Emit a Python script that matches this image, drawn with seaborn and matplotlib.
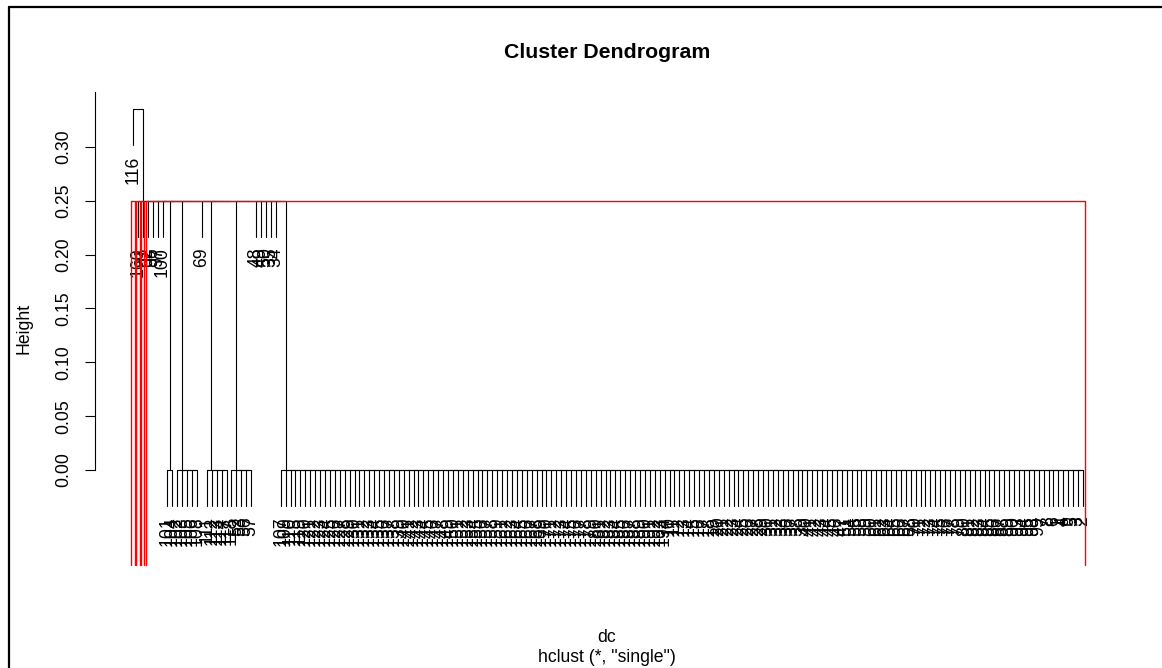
import matplotlib
matplotlib.use("Agg")
import matplotlib.pyplot as plt
import seaborn as sns
from matplotlib.lines import Line2D

# merge heights
ROOT_HEIGHT = 0.335
MID_HEIGHT = 0.25
ZERO_HEIGHT = 0.0
HANG = 0.1

# leaf labels, left to right, grouped the way the tree joins them
outlier = ["116"]
mid_leaves_a = ["160", "91", "92", "96", "97", "100"]
pair_a = ["101", "104"]
five_a = ["102", "103", "105", "106", "108"]
single_b = ["69"]
five_b = ["111", "112", "113", "114", "117"]
five_c = ["118", "52", "53", "56", "57"]
mid_leaves_c = ["48", "49", "50", "35", "34"]
big_cluster = [
    "107", "109", "110", "115", "119", "120", "121", "122", "123", "124",
    "125", "126", "127", "128", "129", "130", "131", "132", "133", "134",
    "135", "136", "137", "138", "139", "140", "141", "142", "143", "144",
    "145", "146", "147", "148", "149", "150", "151", "152", "153", "154",
    "155", "156", "157", "158", "159", "161", "162", "163", "164", "165",
    "166", "167", "168", "169", "170", "171", "172", "173", "174", "175",
    "176", "177", "178", "179", "180", "181", "182", "183", "184", "185",
    "186", "187", "188", "189", "190", "191", "192", "193", "194",
    "10", "11", "12", "13", "14", "15", "16", "17", "18", "19",
    "20", "21", "22", "23", "24", "25", "26", "27", "28", "29",
    "30", "31", "32", "33", "36", "37", "38", "39", "40", "41",
    "42", "43", "44", "45", "46", "47", "51", "54", "55", "58",
    "59", "60", "61", "62", "63", "64", "65", "66", "67", "68",
    "70", "71", "72", "73", "74", "75", "76", "77", "78", "79",
    "80", "81", "82", "83", "84", "85", "86", "87", "88", "89",
    "90", "93", "94", "95", "98", "99",
    "7", "8", "6", "1", "4", "9", "5", "3", "2",
]

# rect.hclust(k = 4): cluster sizes in leaf order
cut_sizes = [1, 1, 1, 191]


def leaf(lbl):
    return ("leaf", lbl)


def chain(items, h):
    # ties at one height: R joins them as a right-nested chain
    if len(items) == 1:
        return items[0]
    return ("merge", h, items[0], chain(items[1:], h))


def zero_group(labels):
    return chain([leaf(l) for l in labels], ZERO_HEIGHT)


mid_children = ([leaf(l) for l in mid_leaves_a]
                + [zero_group(pair_a), zero_group(five_a)]
                + [leaf(l) for l in single_b]
                + [zero_group(five_b), zero_group(five_c)]
                + [leaf(l) for l in mid_leaves_c]
                + [zero_group(big_cluster)])
tree = ("merge", ROOT_HEIGHT, leaf(outlier[0]), chain(mid_children, MID_HEIGHT))

n_leaves = 1 + len(mid_leaves_a) + len(pair_a) + len(five_a) + len(single_b) \
    + len(five_b) + len(five_c) + len(mid_leaves_c) + len(big_cluster)
hang = HANG * ROOT_HEIGHT

sns.set_theme(style="white")
plt.rcParams["font.family"] = ["Liberation Sans", "DejaVu Sans"]
plt.rcParams["text.color"] = "black"
plt.rcParams["axes.labelcolor"] = "black"
plt.rcParams["ytick.color"] = "black"

fig = plt.figure(figsize=(11.62, 6.68), dpi=100)
ax = fig.add_axes([95 / 1162, 103 / 668, 1026 / 1162, 473.3 / 668])

pad = 0.04 * (n_leaves - 1)
ax.set_xlim(1 - pad, n_leaves + pad)
ax.set_ylim(-0.0882, 0.3513)

lw = 0.8
counter = [0]


def draw(node):
    if node[0] == "leaf":
        counter[0] += 1
        return counter[0], None, node[1]
    _, h, left, right = node
    xs = []
    for child in (left, right):
        cx, ch, lbl = draw(child)
        if ch is None:
            bottom = h - hang
            ax.plot([cx, cx], [h, bottom], color="black", lw=lw)
            ax.text(cx, bottom - 0.0095, lbl, rotation=90, ha="center",
                    va="top", fontsize=12.7, color="black")
        else:
            ax.plot([cx, cx], [h, ch], color="black", lw=lw)
        xs.append(cx)
    ax.plot(xs, [h, h], color="black", lw=lw)
    return (xs[0] + xs[1]) / 2, h, None


draw(tree)

# red boxes from rect.hclust
y_bottom = ax.get_ylim()[0]
start = 1
for size in cut_sizes:
    end = start + size - 1
    l, r = start - 0.34, end + 0.33
    ax.plot([l, l, r, r], [y_bottom, MID_HEIGHT, MID_HEIGHT, y_bottom],
            color="#ff0000", lw=1.0, clip_on=False, zorder=5)
    start = end + 1

sns.despine(ax=ax, bottom=True, right=True, top=True)
ax.spines["left"].set_bounds(0, 0.3513)
ax.spines["left"].set_color("black")
ax.spines["left"].set_linewidth(lw)
ax.set_xticks([])
ax.set_yticks([0.0, 0.05, 0.10, 0.15, 0.20, 0.25, 0.30])
ax.set_yticklabels(["0.00", "0.05", "0.10", "0.15", "0.20", "0.25", "0.30"],
                   rotation=90, va="center", fontsize=12.7)
ax.tick_params(axis="y", left=True, length=7.2, width=lw, color="black",
               pad=9.4, labelcolor="black")
ax.patch.set_alpha(0)

fig.text(607 / 1162, 1 - 52 / 668, "Cluster Dendrogram", ha="center",
         va="center", fontsize=15.3, fontweight="bold", color="black")
fig.text(24 / 1162, 1 - 328 / 668, "Height", rotation=90, ha="center",
         va="center", fontsize=12.7, color="black")
fig.text(607 / 1162, 1 - 638 / 668, "dc", ha="center", va="center",
         fontsize=12.7, color="black")
fig.text(607 / 1162, 1 - 657 / 668, 'hclust (*, "single")', ha="center",
         va="center", fontsize=12.7, color="black")

# screenshot frame
fig.add_artist(Line2D([9 / 1162, 9 / 1162], [0, 1 - 7 / 668], color="black",
                      lw=1.6, transform=fig.transFigure))
fig.add_artist(Line2D([9 / 1162, 1], [1 - 7 / 668, 1 - 7 / 668],
                      color="black", lw=1.6, transform=fig.transFigure))

fig.savefig("out.png", dpi=100)
